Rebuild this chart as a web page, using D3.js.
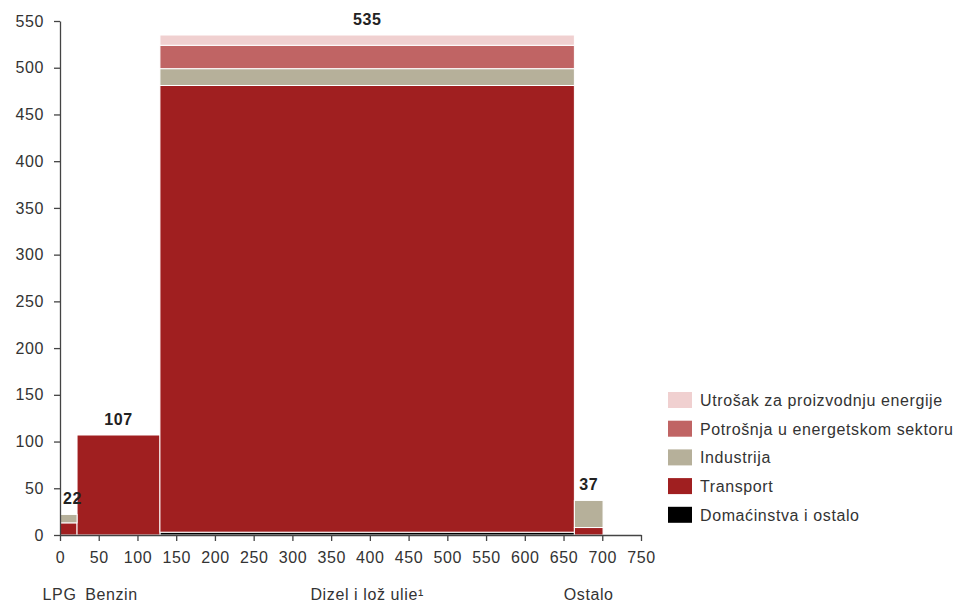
<!DOCTYPE html>
<html><head><meta charset="utf-8">
<script src="https://cdn.jsdelivr.net/npm/d3@7"></script>
<style>body{margin:0;background:#fff}svg{display:block;font-family:Arial,"Liberation Sans",sans-serif}</style>
</head><body><svg id="c" width="962" height="602"></svg>
<script>
const categories = ["LPG", "Benzin", "Dizel i lož ulie¹", "Ostalo"];
const series = ["Domaćinstva i ostalo", "Transport", "Industrija", "Potrošnja u energetskom sektoru", "Utrošak za proizvodnju energije"];
const domacinstva = [0, 0, 3, 0];
const transport = [13, 107, 478, 8];
const industrija = [9, 0, 18, 29];
const potrosnja = [0, 0, 25, 0];
const utrosak = [0, 0, 11, 0];
const totals = [22, 107, 535, 37];
const xTicks = [0,50,100,150,200,250,300,350,400,450,500,550,600,650,700,750];
const yTicks = [0,50,100,150,200,250,300,350,400,450,500,550];

const colors = ["#000000", "#a01f20", "#b6b09a", "#c06464", "#f0d0d0"];
const labelNudge = [-9, -7, 0, 0];
const valueNudge = [4, 0, 0, 0];

const values = [domacinstva, transport, industrija, potrosnja, utrosak];
const svg = d3.select("#c");
const m = {l:60, t:21, r:321, b:67};
const W = 962 - m.l - m.r, H = 602 - m.t - m.b;
const x = d3.scaleLinear().domain([0,750]).range([0,W]);
const y = d3.scaleLinear().domain([0,550]).range([H,0]);
const g = svg.append("g").attr("transform", `translate(${m.l},${m.t})`);
const FS = 16, LS = "0.6px";

let cum = 0;
const cats = categories.map((c,i)=>{ const o = {name:c, x0:cum, x1:cum+totals[i], total:totals[i], i}; cum += totals[i]; return o; });

const stack = d3.stack().keys(d3.range(series.length)).value((d,k)=>values[k][d.i]);
const layers = stack(cats);
layers.forEach((layer, k)=>{
  g.append("g").selectAll("rect").data(layer.filter(d=>d[1]-d[0]>0)).join("rect")
    .attr("x", d=>x(d.data.x0))
    .attr("width", d=>x(d.data.x1)-x(d.data.x0))
    .attr("y", d=>y(d[1]))
    .attr("height", d=>y(d[0])-y(d[1]))
    .attr("fill", colors[k])
    .attr("stroke", "#fff").attr("stroke-width", 1);
});

g.selectAll("text.tot").data(cats).join("text")
  .attr("x", d=>x((d.x0+d.x1)/2)+valueNudge[d.i])
  .attr("y", d=>y(d.total)-10)
  .attr("text-anchor","middle").attr("font-size",FS).attr("letter-spacing",LS).attr("font-weight","bold").attr("fill","#222")
  .text(d=>d.total);

const ax = g.append("g").attr("transform",`translate(0,${H})`)
  .call(d3.axisBottom(x).tickValues(xTicks).tickSize(6).tickSizeOuter(0).tickPadding(11));
const ay = g.append("g")
  .call(d3.axisLeft(y).tickValues(yTicks).tickSize(6).tickSizeOuter(0).tickPadding(10));
[ax, ay].forEach(a=>{
  a.selectAll("path,line").attr("stroke","#444").attr("stroke-width",1.3);
  a.selectAll("text").attr("font-size",FS).attr("letter-spacing",LS).attr("fill","#333").attr("font-family","Arial, 'Liberation Sans', sans-serif");
});

g.selectAll("text.cat").data(cats).join("text")
  .attr("x", d=>x((d.x0+d.x1)/2)+labelNudge[d.i])
  .attr("y", H+65)
  .attr("text-anchor","middle").attr("font-size",FS).attr("letter-spacing",LS).attr("fill","#333")
  .text(d=>d.name);

const legOrder = [4,3,2,1,0];
const lg = svg.append("g").attr("transform","translate(668,392)");
legOrder.forEach((k,j)=>{
  const r = lg.append("g").attr("transform",`translate(0,${j*28.7})`);
  r.append("rect").attr("width",24).attr("height",16).attr("fill",colors[k]);
  r.append("text").attr("x",32).attr("y",14).attr("font-size",FS).attr("letter-spacing",LS).attr("fill","#333").text(series[k]);
});
</script></body></html>
